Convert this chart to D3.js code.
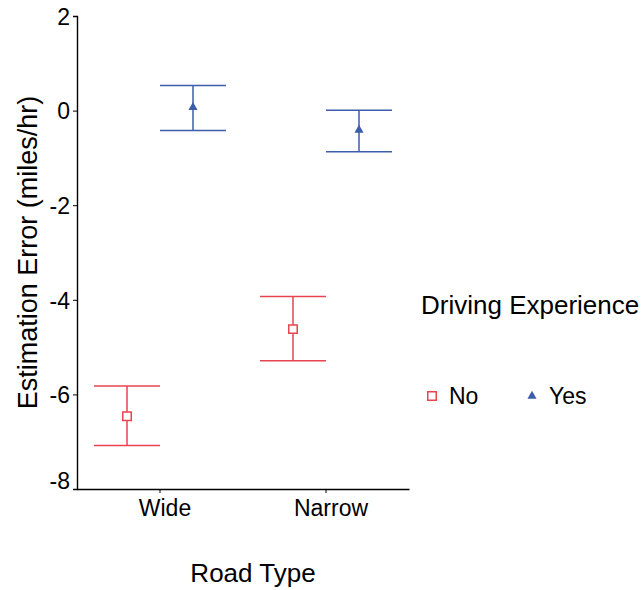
<!DOCTYPE html>
<html>
<head>
<meta charset="utf-8">
<script src="https://cdn.jsdelivr.net/npm/d3@7"></script>
<style>
  body { margin: 0; background: #fff; }
  text { font-family: "Liberation Sans", Arial, sans-serif; fill: #000; }
</style>
</head>
<body>
<svg id="chart" width="641" height="590"></svg>
<script>
'use strict';

const roadTypes = ['Wide', 'Narrow'];
const experience = ['No', 'Yes'];
const noMeans = [-6.46, -4.62];
const noLower = [-7.08, -5.29];
const noUpper = [-5.82, -3.93];
const yesMeans = [0.07, -0.41];
const yesLower = [-0.42, -0.87];
const yesUpper = [0.53, 0.01];
const yTicks = [2, 0, -2, -4, -6, -8];

const colors = { No: '#e8434f', Yes: '#3b5daa' };
const font = '"Liberation Sans", Arial, sans-serif';

const svg = d3.select('#chart');
const plot = { left: 77, right: 409, top: 16, bottom: 489 };

const y = d3.scaleLinear().domain([-8, 2]).range([plot.bottom, plot.top]);
const x = d3.scaleBand().domain(roadTypes).range([plot.left, plot.right]);
// dodge within each road type
const dodge = d3.scalePoint().domain(experience).range([-33, 33]);
const capHalf = 33;

// Build rows from the arrays.
const rows = [];
roadTypes.forEach((r, i) => {
  rows.push({ road: r, exp: 'No', mean: noMeans[i], lo: noLower[i], hi: noUpper[i] });
  rows.push({ road: r, exp: 'Yes', mean: yesMeans[i], lo: yesLower[i], hi: yesUpper[i] });
});
const cx = d => x(d.road) + x.bandwidth() / 2 + dodge(d.exp);

// Axes (plain hyphen for negatives, like the original)
const yAxis = svg.append('g')
  .attr('transform', `translate(${plot.left},0)`)
  .call(d3.axisLeft(y).tickValues(yTicks).tickSize(4).tickPadding(3).tickFormat(d => String(d)));
yAxis.select('.domain').attr('stroke', '#000').attr('stroke-width', 1.4);
yAxis.selectAll('.tick line').attr('stroke', '#000');
yAxis.selectAll('.tick text')
  .attr('font-size', 23)
  .style('font-family', font)
  .attr('dy', d => d === -8 ? '-0.02em' : '0.36em');

const xAxis = svg.append('g')
  .attr('transform', `translate(0,${plot.bottom})`)
  .call(d3.axisBottom(x).tickSize(4).tickPadding(7).tickSizeOuter(0));
xAxis.select('.domain').attr('stroke', '#000').attr('stroke-width', 1.4);
xAxis.selectAll('.tick line').attr('stroke', '#000');
xAxis.selectAll('.tick text')
  .attr('font-size', 23)
  .attr('dx', 5)
  .style('font-family', font);

// Error bars
const bars = svg.append('g').selectAll('g').data(rows).join('g')
  .attr('stroke', d => colors[d.exp])
  .attr('stroke-width', 1.5)
  .attr('fill', 'none');

bars.append('line')
  .attr('x1', cx).attr('x2', cx)
  .attr('y1', d => y(d.lo)).attr('y2', d => y(d.hi));
bars.append('line')
  .attr('x1', d => cx(d) - capHalf).attr('x2', d => cx(d) + capHalf)
  .attr('y1', d => y(d.hi)).attr('y2', d => y(d.hi));
bars.append('line')
  .attr('x1', d => cx(d) - capHalf).attr('x2', d => cx(d) + capHalf)
  .attr('y1', d => y(d.lo)).attr('y2', d => y(d.lo));

// Markers
const square = d3.symbol().type(d3.symbolSquare).size(72);
const triangle = d3.symbol().type(d3.symbolTriangle).size(36);
const marker = (sel, exp) => {
  if (exp === 'No') {
    sel.attr('d', square()).attr('fill', '#fff').attr('stroke', colors.No).attr('stroke-width', 1.5);
  } else {
    sel.attr('d', triangle()).attr('fill', colors.Yes).attr('stroke', 'none');
  }
};
svg.append('g').selectAll('path').data(rows).join('path')
  .attr('transform', d => `translate(${cx(d)},${y(d.mean)})`)
  .each(function (d) { marker(d3.select(this), d.exp); });

// Axis titles
svg.append('text')
  .attr('transform', `translate(37,${(plot.top + plot.bottom) / 2}) rotate(-90)`)
  .attr('text-anchor', 'middle')
  .attr('font-size', 27)
  .text('Estimation Error (miles/hr)');

svg.append('text')
  .attr('x', 253).attr('y', 582)
  .attr('text-anchor', 'middle')
  .attr('font-size', 26)
  .text('Road Type');

// Legend
const legend = svg.append('g');
legend.append('text')
  .attr('x', 421).attr('y', 314)
  .attr('font-size', 26)
  .text('Driving Experience');

const legendX = d3.scalePoint().domain(experience).range([432, 532]);
const items = legend.selectAll('g.item').data(experience).join('g')
  .attr('class', 'item')
  .attr('transform', d => `translate(${legendX(d)},396)`);
items.append('path').each(function (d) { marker(d3.select(this), d); });
items.append('text')
  .attr('x', 17).attr('dy', '0.36em')
  .attr('font-size', 23)
  .text(d => d);
</script>
</body>
</html>
